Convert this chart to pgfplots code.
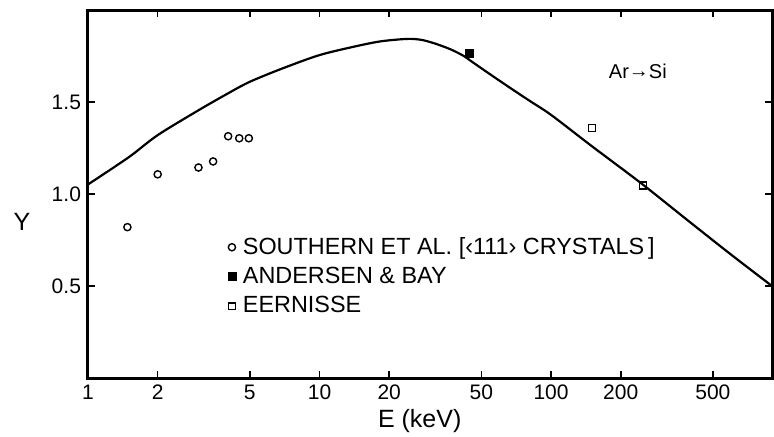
\documentclass[border=0pt]{standalone}
\usepackage{pgfplots}
\pgfplotsset{compat=1.18}
\usepackage{fontspec}
\setmainfont{Liberation Sans}
\begin{document}
\begin{tikzpicture}
\begin{axis}[name=ax, scale only axis, width=342pt, height=184pt,
  xmode=log, xmin=1, xmax=900, ymin=0, ymax=2,
  xtick={1,2,5,10,20,50,100,200,500}, xticklabels={1,2,5,10,20,50,100,200,500},
  ytick={0.5,1.0,1.5}, yticklabels={0.5,1.0,1.5},
  minor xtick={}, minor ytick={},
  axis line style={line width=1.5pt},
  major tick style={line width=0.8pt, black}, major tick length=3.5pt,
  tick label style={font=\fontsize{10.5}{12}\selectfont},
  xlabel={E (keV)}, ylabel={Y},
  label style={font=\fontsize{12.5}{14}\selectfont},
  xlabel style={at={(axis description cs:0.485,0)}, anchor=center, yshift=-21.5pt},
  ylabel style={at={(axis description cs:-0.0965,0.424)}, anchor=center, rotate=-90},
  legend style={draw=none, fill=none, at={(axis description cs:0.204,0.389)}, anchor=north west,
    font=\fontsize{11.7}{14}\selectfont, row sep=3pt, column sep=2.5pt, inner sep=0pt, nodes={inner sep=1pt}},
  legend cell align=left,
  legend image code/.code={\draw[#1] plot coordinates {(0pt,0pt)};},
]
\addplot[black, line width=1.1pt, smooth, no marks, forget plot] coordinates {
(1,1.052)(1.5,1.20)(2,1.32)(3,1.455)(4,1.545)(5,1.61)(7,1.685)(10,1.755)(14,1.80)(18,1.828)(22,1.840)(25,1.843)(28,1.836)(32,1.815)(37,1.785)(42,1.750)(46,1.715)(60,1.615)(80,1.51)(100,1.43)(150,1.26)(244,1.06)(400,0.845)(600,0.67)(900,0.50)
};
\addplot[black, only marks, mark=o, mark size=1.8pt, mark options={line width=0.7pt}] coordinates {
(1.48,0.82)(2.0,1.107)(3.0,1.144)(3.47,1.177)(4.03,1.314)(4.5,1.303)(4.95,1.303)
};
\addlegendentry{SOUTHERN ET AL. [‹111› CRYSTALS\,]}
\addplot[black, only marks, mark=square*, mark size=2pt] coordinates {(44.5,1.762)};
\addlegendentry{ANDERSEN \& BAY}
\addplot[black, only marks, mark=square, mark size=1.7pt, mark options={line width=0.7pt}] coordinates {(150,1.358)(249,1.046)};
\addlegendentry{EERNISSE}
\node[font=\fontsize{10}{12}\selectfont] at (axis cs:237,1.664) {Ar\raisebox{0.08em}{→}Si};
\end{axis}
\pgfresetboundingbox
\path[use as bounding box] ([shift={(-44pt,-29pt)}]ax.south west) rectangle ([shift={(1pt,5pt)}]ax.north east);
\end{tikzpicture}
\end{document}
